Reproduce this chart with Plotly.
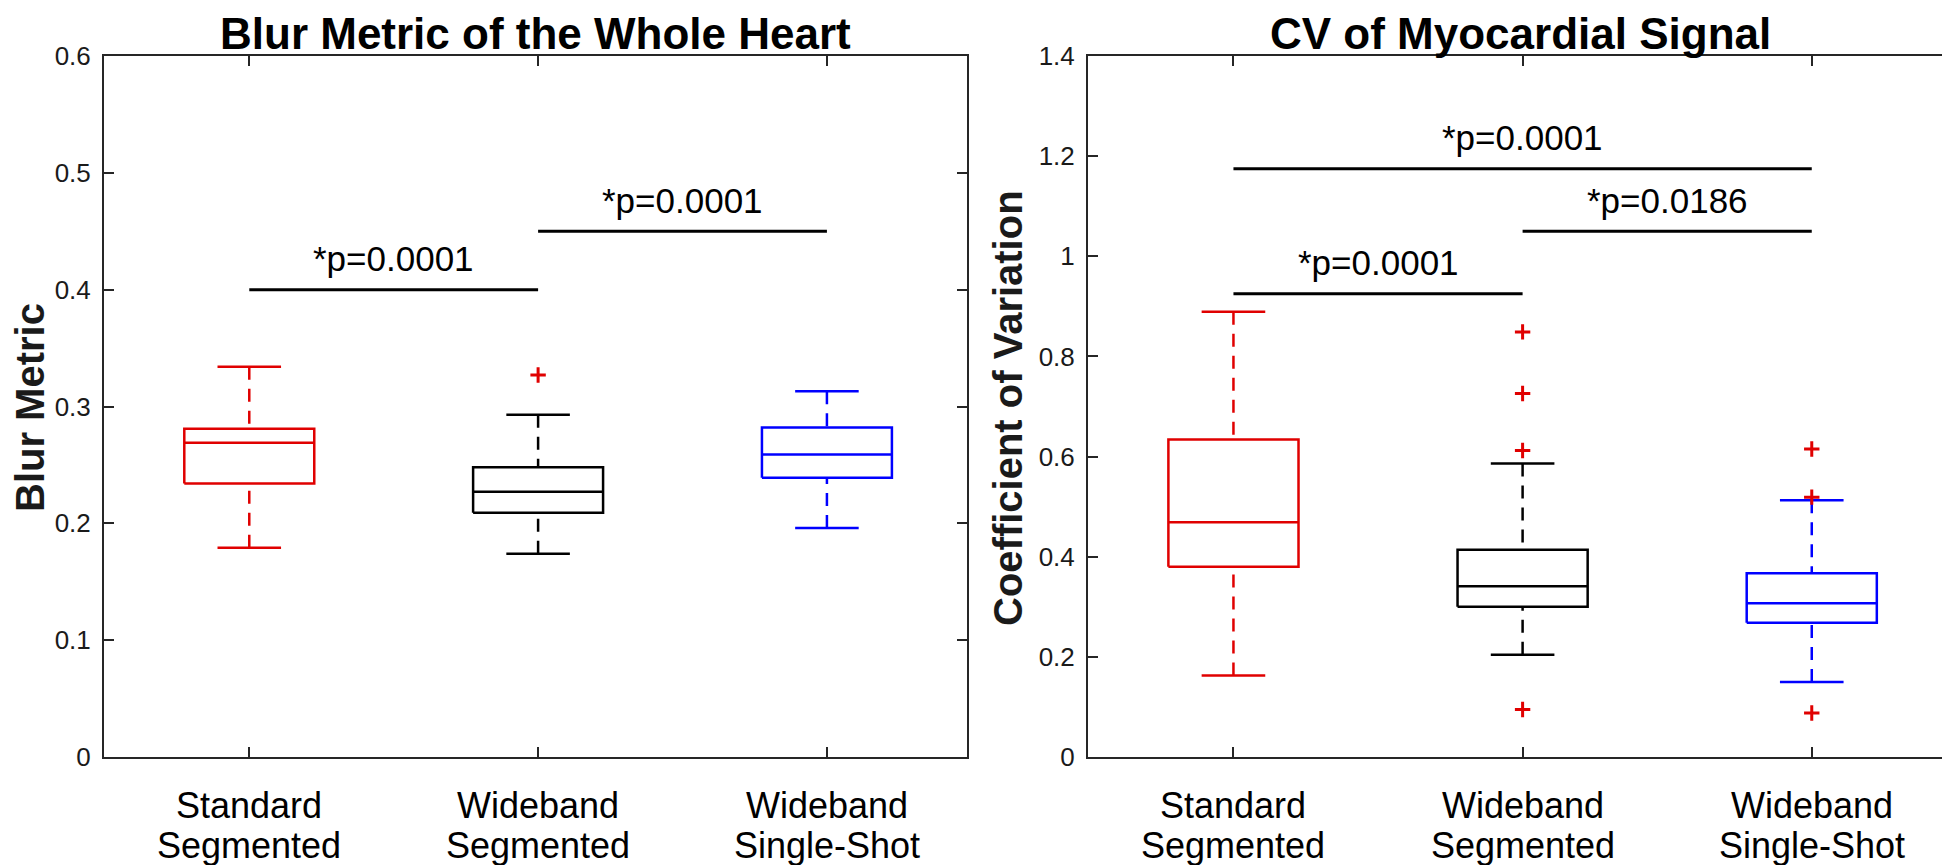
import plotly.graph_objects as go

# ---------------- data ----------------
category_line1 = ["Standard", "Wideband", "Wideband"]
category_line2 = ["Segmented", "Segmented", "Single-Shot"]
positions = [1, 2, 3]
group_colors = ["#e00000", "#000000", "#0000ff"]

blur_lower = [0.179, 0.174, 0.196]
blur_q1 = [0.234, 0.209, 0.239]
blur_median = [0.269, 0.227, 0.259]
blur_q3 = [0.281, 0.248, 0.282]
blur_upper = [0.334, 0.293, 0.313]
blur_outliers = [[], [0.327], []]

cv_lower = [0.163, 0.204, 0.150]
cv_q1 = [0.380, 0.300, 0.268]
cv_median = [0.469, 0.341, 0.307]
cv_q3 = [0.634, 0.414, 0.367]
cv_upper = [0.889, 0.586, 0.513]
cv_outliers = [[], [0.849, 0.726, 0.612, 0.095], [0.615, 0.519, 0.088]]

blur_sig_from = [1, 2]
blur_sig_to = [2, 3]
blur_sig_y = [0.40, 0.45]
blur_sig_text = ["*p=0.0001", "*p=0.0001"]

cv_sig_from = [1, 2, 1]
cv_sig_to = [2, 3, 3]
cv_sig_y = [0.925, 1.05, 1.175]
cv_sig_text = ["*p=0.0001", "*p=0.0186", "*p=0.0001"]

blur_ticks = [0, 0.1, 0.2, 0.3, 0.4, 0.5, 0.6]
blur_ticktext = ["0", "0.1", "0.2", "0.3", "0.4", "0.5", "0.6"]
cv_ticks = [0, 0.2, 0.4, 0.6, 0.8, 1.0, 1.2, 1.4]
cv_ticktext = ["0", "0.2", "0.4", "0.6", "0.8", "1", "1.2", "1.4"]

titles = ["Blur Metric of the Whole Heart", "CV of Myocardial Signal"]
ylabels = ["Blur Metric", "Coefficient of Variation"]

# ---------------- style ----------------
FONT = "Liberation Sans, Arial, Helvetica, sans-serif"
W, H = 1950, 865
BOX_HW = 0.225
CAP_HW = 0.11
LW = 2.5
OUT_RED = "#e00000"
AX_COLOR = "#262626"
TXT = "#1a1a1a"

fig = go.Figure()


def add_boxes(xa, ya, lower, q1, med, q3, upper, outliers):
    for i, p in enumerate(positions):
        c = group_colors[i]
        common = dict(xaxis=xa, yaxis=ya, mode="lines", showlegend=False, hoverinfo="skip")
        fig.add_trace(go.Scatter(x=[p - BOX_HW, p + BOX_HW, p + BOX_HW, p - BOX_HW, p - BOX_HW],
                                 y=[q1[i], q1[i], q3[i], q3[i], q1[i]],
                                 line=dict(color=c, width=LW), **common))
        fig.add_trace(go.Scatter(x=[p - BOX_HW, p + BOX_HW], y=[med[i], med[i]],
                                 line=dict(color=c, width=LW), **common))
        fig.add_trace(go.Scatter(x=[p, p], y=[upper[i], q3[i]],
                                 line=dict(color=c, width=LW, dash="13px,9px"), **common))
        fig.add_trace(go.Scatter(x=[p, p], y=[lower[i], q1[i]],
                                 line=dict(color=c, width=LW, dash="13px,9px"), **common))
        fig.add_trace(go.Scatter(x=[p - CAP_HW, p + CAP_HW], y=[upper[i], upper[i]],
                                 line=dict(color=c, width=LW), **common))
        fig.add_trace(go.Scatter(x=[p - CAP_HW, p + CAP_HW], y=[lower[i], lower[i]],
                                 line=dict(color=c, width=LW), **common))
        if outliers[i]:
            fig.add_trace(go.Scatter(x=[p] * len(outliers[i]), y=outliers[i], mode="markers",
                                     xaxis=xa, yaxis=ya, showlegend=False, hoverinfo="skip",
                                     marker=dict(symbol="cross-thin", size=11,
                                                 line=dict(color=OUT_RED, width=3))))


def add_sig(xa, ya, x0s, x1s, ys, texts):
    for a, b, y, t in zip(x0s, x1s, ys, texts):
        fig.add_trace(go.Scatter(x=[a, b], y=[y, y], mode="lines", xaxis=xa, yaxis=ya,
                                 showlegend=False, hoverinfo="skip",
                                 line=dict(color="black", width=3)))
        fig.add_annotation(x=(a + b) / 2, y=y, xref=xa, yref=ya, text=t, showarrow=False,
                           yanchor="middle", yshift=31,
                           font=dict(family=FONT, size=35, color="black"))


add_boxes("x", "y", blur_lower, blur_q1, blur_median, blur_q3, blur_upper, blur_outliers)
add_boxes("x2", "y2", cv_lower, cv_q1, cv_median, cv_q3, cv_upper, cv_outliers)
add_sig("x", "y", blur_sig_from, blur_sig_to, blur_sig_y, blur_sig_text)
add_sig("x2", "y2", cv_sig_from, cv_sig_to, cv_sig_y, cv_sig_text)

# axes geometry (pixels)
left_px = [(96, 959), (1080, 1944)]
top_px, bottom_px = 48, 749
ydom = [1 - bottom_px / H, 1 - top_px / H]
XR = [0.497, 3.485]

axis_common = dict(showline=True, linecolor=AX_COLOR, linewidth=2, mirror="allticks",
                   ticks="inside", ticklen=10, tickwidth=2, tickcolor=AX_COLOR,
                   showgrid=False, zeroline=False, automargin=False)

fig.update_layout(
    width=W, height=H,
    margin=dict(l=0, r=0, t=0, b=0),
    paper_bgcolor="white", plot_bgcolor="white",
    font=dict(family=FONT, color="black"),
    xaxis=dict(domain=[left_px[0][0] / W, left_px[0][1] / W], range=XR,
               tickvals=positions, showticklabels=False, anchor="y", **axis_common),
    yaxis=dict(domain=ydom, range=[0, 0.6], tickvals=blur_ticks, ticktext=blur_ticktext,
               anchor="x", tickfont=dict(size=26, family=FONT, color=TXT),
               ticklabelstandoff=6, **axis_common),
    xaxis2=dict(domain=[left_px[1][0] / W, left_px[1][1] / W], range=XR,
                tickvals=positions, showticklabels=False, anchor="y2", **axis_common),
    yaxis2=dict(domain=ydom, range=[0, 1.4], tickvals=cv_ticks, ticktext=cv_ticktext,
                anchor="x2", tickfont=dict(size=26, family=FONT, color=TXT),
                ticklabelstandoff=6, **axis_common),
)

# category labels (two lines each, MATLAB-like tight spacing)
for xa in ["x", "x2"]:
    for p, l1, l2 in zip(positions, category_line1, category_line2):
        fig.add_annotation(x=p, y=1 - 797 / H, xref=xa, yref="paper", text=l1,
                           showarrow=False, xanchor="center", yanchor="middle",
                           font=dict(family=FONT, size=36, color="black"))
        fig.add_annotation(x=p, y=1 - 837 / H, xref=xa, yref="paper", text=l2,
                           showarrow=False, xanchor="center", yanchor="middle",
                           font=dict(family=FONT, size=36, color="black"))

# titles
for (l, r), t in zip(left_px, titles):
    fig.add_annotation(x=(l + r) / 2 / W, y=1 - 26 / H, xref="paper", yref="paper",
                       text="<b>" + t + "</b>", showarrow=False, xanchor="center", yanchor="middle",
                       font=dict(family=FONT, size=44, color="black"))

# y-axis labels
for xc, t in zip([22, 1000], ylabels):
    fig.add_annotation(x=xc / W, y=1 - 400 / H, xref="paper", yref="paper",
                       text="<b>" + t + "</b>", showarrow=False, textangle=-90,
                       xanchor="center", yanchor="middle",
                       font=dict(family=FONT, size=40, color=TXT))

fig.write_html("out.html")
